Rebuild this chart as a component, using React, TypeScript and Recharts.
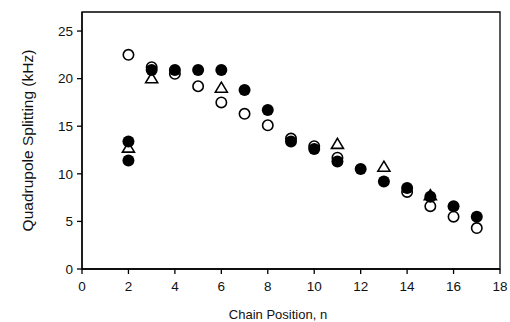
import {
  ScatterChart,
  Scatter,
  XAxis,
  YAxis,
  ReferenceArea,
} from "recharts";

// open circles
const openPts = [
  { n: 2, q: 22.5 },
  { n: 3, q: 21.2 },
  { n: 4, q: 20.5 },
  { n: 5, q: 19.2 },
  { n: 6, q: 17.5 },
  { n: 7, q: 16.3 },
  { n: 8, q: 15.1 },
  { n: 9, q: 13.7 },
  { n: 10, q: 12.9 },
  { n: 11, q: 11.7 },
  { n: 14, q: 8.1 },
  { n: 15, q: 6.6 },
  { n: 16, q: 5.5 },
  { n: 17, q: 4.3 },
];

// filled circles
const filledPts = [
  { n: 2, q: 13.4 },
  { n: 2, q: 11.4 },
  { n: 3, q: 20.9 },
  { n: 4, q: 20.9 },
  { n: 5, q: 20.9 },
  { n: 6, q: 20.9 },
  { n: 7, q: 18.8 },
  { n: 8, q: 16.7 },
  { n: 9, q: 13.4 },
  { n: 10, q: 12.6 },
  { n: 11, q: 11.3 },
  { n: 12, q: 10.5 },
  { n: 13, q: 9.2 },
  { n: 14, q: 8.5 },
  { n: 15, q: 7.6 },
  { n: 16, q: 6.6 },
  { n: 17, q: 5.5 },
];

// open triangles
const trianglePts = [
  { n: 2, q: 12.8 },
  { n: 3, q: 20.1 },
  { n: 6, q: 19.1 },
  { n: 11, q: 13.2 },
  { n: 13, q: 10.8 },
  { n: 15, q: 7.8 },
];

const xTicks = [0, 2, 4, 6, 8, 10, 12, 14, 16, 18];
const yTicks = [0, 5, 10, 15, 20, 25];

const FONT = "'Liberation Sans', Arial, sans-serif";
const tickStyle = { fontSize: 13.5, fill: "#111", fontFamily: FONT };

const OpenCircle = (props: any) => (
  <circle cx={props.cx} cy={props.cy} r={5.2} fill="#fff" stroke="#000" strokeWidth={1.6} />
);

const FilledCircle = (props: any) => (
  <circle cx={props.cx} cy={props.cy} r={6} fill="#000" />
);

const Triangle = (props: any) => {
  const { cx, cy } = props;
  const w = 6;
  const h = 5;
  return (
    <path
      d={`M${cx},${cy - h} L${cx + w},${cy + h} L${cx - w},${cy + h} Z`}
      fill="#fff"
      stroke="#000"
      strokeWidth={1.6}
    />
  );
};

const YLabel = (props: any) => {
  const vb = props.viewBox || {};
  const y = vb.y + vb.height / 2;
  return (
    <text
      x={27}
      y={y}
      transform={`rotate(-90, 27, ${y})`}
      textAnchor="middle"
      dominantBaseline="central"
      fontSize={15.5}
      fontFamily={FONT}
      fill="#111"
    >
      Quadrupole Splitting (kHz)
    </text>
  );
};

const XLabel = (props: any) => {
  const vb = props.viewBox || {};
  return (
    <text
      x={vb.x + vb.width / 2 - 13}
      y={319}
      textAnchor="middle"
      fontSize={13}
      fontFamily={FONT}
      fill="#111"
    >
      Chain Position, n
    </text>
  );
};

export default function App() {
  return (
    <div style={{ position: "absolute", left: 0, top: 0, background: "#fff" }}>
      <ScatterChart
        width={510}
        height={322}
        margin={{ top: 12, right: 10, bottom: 0, left: 0 }}
      >
        <XAxis
          type="number"
          dataKey="n"
          domain={[0, 18]}
          ticks={xTicks}
          interval={0}
          height={53}
          tick={tickStyle}
          tickSize={5}
          tickMargin={7}
          stroke="#000"
          strokeWidth={1.3}
          label={<XLabel />}
        />
        <YAxis
          type="number"
          dataKey="q"
          domain={[0, 27]}
          ticks={yTicks}
          interval={0}
          width={82}
          tick={tickStyle}
          tickSize={5}
          tickMargin={4}
          stroke="#000"
          strokeWidth={1.3}
          label={<YLabel />}
        />
        <ReferenceArea
          x1={0}
          x2={18}
          y1={0}
          y2={27}
          fill="none"
          fillOpacity={0}
          stroke="#000"
          strokeWidth={1.3}
          strokeOpacity={1}
        />
        <Scatter data={openPts} shape={<OpenCircle />} isAnimationActive={false} />
        <Scatter data={trianglePts} shape={<Triangle />} isAnimationActive={false} />
        <Scatter data={filledPts} shape={<FilledCircle />} isAnimationActive={false} />
      </ScatterChart>
    </div>
  );
}
